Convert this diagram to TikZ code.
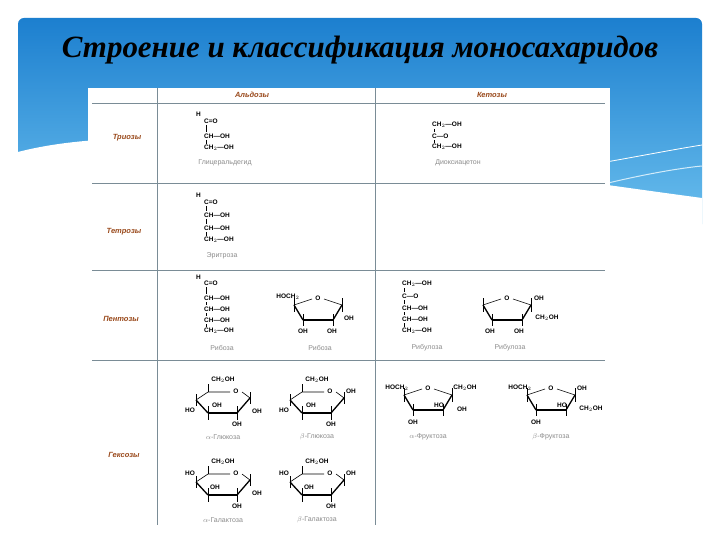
\documentclass[tikz,border=0pt]{standalone}
\usepackage{fontspec}
\setmainfont{Liberation Serif}
\setsansfont{Liberation Sans}
\usetikzlibrary{calc}
\definecolor{slideblue}{HTML}{1C7FCF}
\definecolor{slidelight}{HTML}{6CC0EE}
\definecolor{gridc}{HTML}{7A8C96}
\definecolor{rowlab}{HTML}{9A4A1C}
\tikzset{
  ch/.style={font=\sffamily\bfseries\fontsize{6.5}{6.5}\selectfont, inner sep=0pt},
  nm/.style={font=\sffamily\fontsize{7}{7}\selectfont, text=gray!90, inner sep=0pt},
  rowl/.style={font=\sffamily\bfseries\itshape\fontsize{7.5}{8}\selectfont, text=rowlab, inner sep=0pt},
  grid/.style={draw=gridc, line width=0.8pt},
  bnd/.style={line width=0.6pt},
  fat/.style={line width=2.4pt},
  mid/.style={line width=1.3pt}
}
\newcommand\hexring{%
  \draw[bnd] (-27,-3)--(-15,-11) (-15,-11)--(7,-11) (19,-11)--(27,-5);
  \node[ch] (ro) at (13,-12) {O};
  \draw[mid] (-27,-3)--(-15,10) (14,10)--(27,-5);
  \draw[fat] (-15,10)--(14,10);
  \draw[bnd] (-27,-9)--(-27,3) (-15,-11)--(-15,-19) (-15,3)--(-15,17) (14,3)--(14,17) (27,-11)--(27,1);
}
\newcommand\pentring{%
  \draw[bnd] (-24,-5)--(-6,-11) (6,-11)--(24,-5);
  \node[ch] (po) at (0,-12) {O};
  \draw[mid] (-24,-5)--(-15,10) (15,10)--(24,-5);
  \draw[fat] (-15,10)--(15,10);
  \draw[bnd] (-24,-12)--(-24,2) (24,-12)--(24,2) (-15,4)--(-15,16) (15,4)--(15,16);
}
\begin{document}
\begin{tikzpicture}[x=1pt,y=-1pt]
\useasboundingbox (0,0) rectangle (720,540);
\fill[white] (0,0) rectangle (720,540);
% slide background
\shade[top color=slideblue, bottom color=slidelight, rounded corners=6pt] (18,18) rectangle (702,230);
\fill[white] (18,152) .. controls (160,115) and (420,160) .. (702,198) -- (702,540) -- (18,540) -- cycle;
\draw[white, line width=0.8pt] (560,170) .. controls (620,160) and (670,150) .. (702,145);
\draw[white!70!slidelight, line width=1pt] (600,185) .. controls (640,175) and (680,168) .. (702,166);
% title
\node (title) at (360,50) {\resizebox{596pt}{!}{\bfseries\itshape Строение и классификация моносахаридов}};
% table
\fill[white] (88,88) rectangle (610,525);
\draw[grid] (157,88)--(157,525) (375,88)--(375,525);
\draw[grid] (92,103)--(605,103) (92,183)--(605,183) (92,270)--(605,270) (92,360)--(605,360);
\node[rowl] (h1) at (252,95) {Альдозы};
\node[rowl] (h2) at (492,95) {Кетозы};
\node[rowl] (r1) at (127,138) {Триозы};
\node[rowl] (r2) at (124,232) {Тетрозы};
\node[rowl] (r3) at (121,319) {Пентозы};
\node[rowl] (r4) at (124,455) {Гексозы};
% triose aldose
\node[ch,anchor=west] (a1) at (196,114) {H};
\node[ch,anchor=west] (a2) at (204,121) {C=O};
\node[ch,anchor=west] (a3) at (204,136) {CH—OH};
\node[ch,anchor=west] (a4) at (204,148) {CH$_2$—OH};
\draw[bnd] (206,125)--(206,132) (206,140)--(206,144);
\node[nm] (n1) at (225,163) {Глицеральдегид};
% triose ketose
\node[ch,anchor=west] (k1) at (432,125) {CH$_2$—OH};
\node[ch,anchor=west] (k2) at (432,136) {C—O};
\node[ch,anchor=west] (k3) at (432,147) {CH$_2$—OH};
\draw[bnd] (434,129)--(434,132) (434,140)--(434,143);
\node[nm] (n2) at (458,163) {Диоксиацетон};
% tetrose
\node[ch,anchor=west] (t1) at (196,195) {H};
\node[ch,anchor=west] (t2) at (204,202) {C=O};
\node[ch,anchor=west] (t3) at (204,215) {CH—OH};
\node[ch,anchor=west] (t4) at (204,228) {CH—OH};
\node[ch,anchor=west] (t5) at (204,240) {CH$_2$—OH};
\draw[bnd] (206,206)--(206,211) (206,219)--(206,224) (206,232)--(206,236);
\node[nm] (n3) at (222,256) {Эритроза};
% pentose fischer
\node[ch,anchor=west] (p1) at (196,277) {H};
\node[ch,anchor=west] (p2) at (204,283) {C=O};
\node[ch,anchor=west] (p3) at (204,298) {CH—OH};
\node[ch,anchor=west] (p4) at (204,309) {CH—OH};
\node[ch,anchor=west] (p5) at (204,320) {CH—OH};
\node[ch,anchor=west] (p6) at (204,331) {CH$_2$—OH};
\draw[bnd] (206,287)--(206,294) (206,302)--(206,305) (206,313)--(206,316) (206,324)--(206,327);
\node[nm] (n4) at (222,348) {Рибоза};
% ribose ring
\begin{scope}[shift={(318,310)}]
\pentring
\node[ch] (rb1) at (-30,-13) {HOCH$_2$};
\node[ch] (rb2) at (31,8) {OH};
\node[ch] (rb3) at (-15,21) {OH};
\node[ch] (rb4) at (14,21) {OH};
\end{scope}
\node[nm] (n5) at (320,348) {Рибоза};
% ribulose fischer
\node[ch,anchor=west] (u1) at (402,284) {CH$_2$—OH};
\node[ch,anchor=west] (u2) at (402,296) {C—O};
\node[ch,anchor=west] (u3) at (402,308) {CH—OH};
\node[ch,anchor=west] (u4) at (402,319) {CH—OH};
\node[ch,anchor=west] (u5) at (402,331) {CH$_2$—OH};
\draw[bnd] (404,288)--(404,292) (404,300)--(404,304) (404,312)--(404,315) (404,323)--(404,327);
\node[nm] (n6) at (427,348) {Рибулоза};
\begin{scope}[shift={(507,310)}]
\pentring
\node[ch] (ru1) at (32,-12) {OH};
\node[ch] (ru2) at (40,8) {CH$_2$OH};
\node[ch] (ru3) at (-17,21) {OH};
\node[ch] (ru4) at (12,21) {OH};
\end{scope}
\node[nm] (n7) at (510,348) {Рибулоза};
% glucose
\begin{scope}[shift={(223,403)}]
\hexring
\node[ch] (g1) at (0,-23) {CH$_2$OH};
\node[ch] (g2) at (-6,2) {OH};
\node[ch] (g3) at (-33,7) {HO};
\node[ch] (g4) at (34,8) {OH};
\node[ch] (g5) at (14,21) {OH};
\end{scope}
\node[nm] (n8) at (223,437) {$\alpha$-Глюкоза};
\begin{scope}[shift={(317,403)}]
\hexring
\node[ch] (b1) at (0,-23) {CH$_2$OH};
\node[ch] (b2) at (-6,2) {OH};
\node[ch] (b3) at (-33,7) {HO};
\node[ch] (b4) at (34,-12) {OH};
\node[ch] (b5) at (14,21) {OH};
\end{scope}
\node[nm] (n9) at (317,437) {$\beta$-Глюкоза};
% galactose
\begin{scope}[shift={(223,485)}]
\hexring
\node[ch] (c1) at (0,-23) {CH$_2$OH};
\node[ch] (c2) at (-33,-12) {HO};
\node[ch] (c3) at (-8,2) {OH};
\node[ch] (c4) at (34,8) {OH};
\node[ch] (c5) at (14,21) {OH};
\end{scope}
\node[nm] (n10) at (223,520) {$\alpha$-Галактоза};
\begin{scope}[shift={(317,485)}]
\hexring
\node[ch] (d1) at (0,-23) {CH$_2$OH};
\node[ch] (d2) at (-33,-12) {HO};
\node[ch] (d3) at (-8,2) {OH};
\node[ch] (d4) at (34,-12) {OH};
\node[ch] (d5) at (14,21) {OH};
\end{scope}
\node[nm] (n11) at (317,520) {$\beta$-Галактоза};
% fructose
\begin{scope}[shift={(428,400)}]
\pentring
\node[ch] (f1) at (-31,-12) {HOCH$_2$};
\node[ch] (f2) at (37,-12) {CH$_2$OH};
\node[ch] (f3) at (11,5) {HO};
\node[ch] (f4) at (34,9) {OH};
\node[ch] (f5) at (-15,22) {OH};
\end{scope}
\node[nm] (n12) at (428,437) {$\alpha$-Фруктоза};
\begin{scope}[shift={(551,400)}]
\pentring
\node[ch] (e1) at (-31,-12) {HOCH$_2$};
\node[ch] (e2) at (31,-12) {OH};
\node[ch] (e3) at (11,5) {HO};
\node[ch] (e4) at (40,9) {CH$_2$OH};
\node[ch] (e5) at (-15,22) {OH};
\end{scope}
\node[nm] (n13) at (551,437) {$\beta$-Фруктоза};
\end{tikzpicture}
\end{document}
